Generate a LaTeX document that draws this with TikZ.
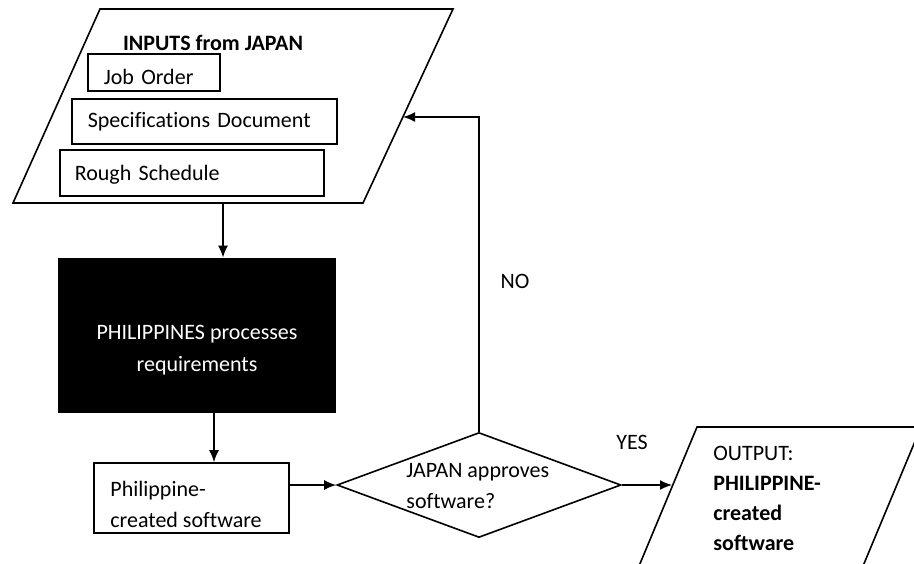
\documentclass[tikz,border=0pt]{standalone}
\usepackage{fontspec}
\setmainfont{Carlito}[Ligatures=NoCommon]
\usetikzlibrary{positioning,shapes.geometric,arrows.meta}
\tikzset{
  every node/.style={font=\fontsize{11pt}{15.5pt}\selectfont},
  line/.style={line width=0.8pt},
  arr/.style={line width=0.8pt,-{Latex[length=6pt,width=5pt]}},
  inbox/.style={draw,line width=0.8pt,anchor=north west,inner xsep=8pt,inner ysep=0pt,align=left},
  txt/.style={inner sep=0pt,align=left,anchor=west}
}
\begin{document}
\begin{tikzpicture}[x=0.5pt,y=-0.5pt]
	\useasboundingbox (0,0) rectangle (914,563);
	\clip (0,0) rectangle (914,563);

	% inputs
	\draw[line] (100,9) -- (453,9) -- (363,203) -- (13,203) -- cycle;
	\coordinate (inS) at (223,203);
	\coordinate (inE) at (403,117);
	\node[font=\fontsize{11pt}{15.5pt}\selectfont\bfseries] (title) at (213,43) {INPUTS from JAPAN};
	\node[inbox,text width=50pt,text height=15.5pt,text depth=3pt] (job) at (87,53) {Job Order};
	\node[inbox,text width=116.5pt,text height=14.5pt,text depth=8pt] (spec) at (71,98) {Specifications Document};
	\node[inbox,inner xsep=7.5pt,text width=117pt,text height=15.5pt,text depth=7.5pt] (rough) at (59,149) {Rough Schedule};

	% process
	\node[fill=black,minimum width=139pt,minimum height=77.5pt,inner sep=0pt] (proc) at (197,335.5) {};
	\node[text=white,align=center,font=\fontsize{11pt}{16pt}\selectfont] (proctext) at (197,350) {PHILIPPINES processes\\requirements};

	% software
	\node[draw,line width=0.8pt,minimum width=97.5pt,minimum height=35pt,inner sep=0pt] (soft) at (191.5,498) {};
	\node[txt] (softtext) at (110,504) {Philippine-\\created software};

	% decision
	\node[draw,diamond,line width=0.8pt,minimum width=142pt,minimum height=52.5pt,inner sep=0pt] (diam) at (479,485) {};
	\node[txt] (diamtext) at (406,486) {JAPAN approves\\software?};

	% output
	\draw[line] (697,427) -- (921,427) -- (853,590) -- (629,590) -- cycle;
	\coordinate (outW) at (672,485);
	\node[txt,font=\fontsize{11pt}{15pt}\selectfont] (outtext) at (713,498) {OUTPUT:\\\textbf{PHILIPPINE-}\\\textbf{created}\\\textbf{software}};

	\draw[arr] (inS) -- (inS |- proc.north);
	\coordinate (procS) at (214,413);
	\draw[arr] (procS) -- (procS |- soft.north);
	\draw[arr] (soft.east |- diam.west) -- (diam.west);
	\draw[arr] (diam.east) -- (outW);
	\draw[arr] (diam.north) |- (inE);

	\node (no) at (515,281) {NO};
	\node (yes) at (632,442) {YES};
\end{tikzpicture}
\end{document}
